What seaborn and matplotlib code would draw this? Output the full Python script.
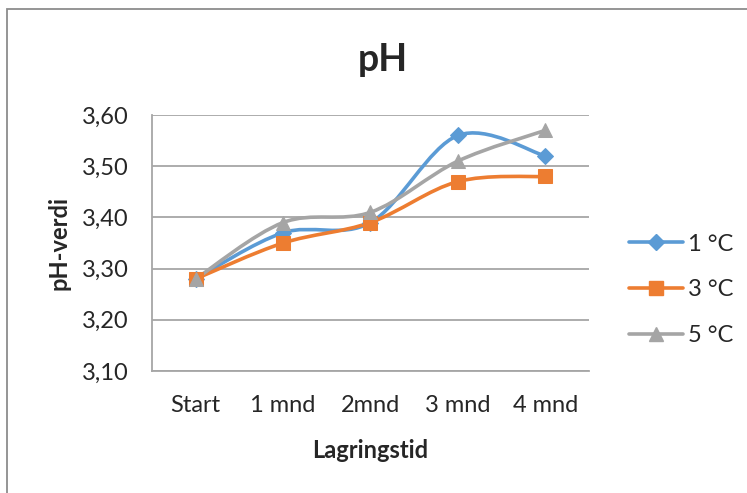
import numpy as np
import pandas as pd
import seaborn as sns
import matplotlib
matplotlib.use("Agg")
import matplotlib.pyplot as plt
from matplotlib.path import Path
from matplotlib.patches import PathPatch, Rectangle
from matplotlib.lines import Line2D

categories = ["Start", "1 mnd", "2mnd", "3 mnd", "4 mnd"]
ph_1c = [3.28, 3.37, 3.39, 3.56, 3.52]
ph_3c = [3.28, 3.35, 3.39, 3.47, 3.48]
ph_5c = [3.28, 3.39, 3.41, 3.51, 3.57]
series_names = ["1 °C", "3 °C", "5 °C"]
yticks = [3.10, 3.20, 3.30, 3.40, 3.50, 3.60]

colors = ["#5B9BD5", "#ED7D31", "#A5A5A5"]
markers = ["D", "s", "^"]
msizes = [8, 10, 10]

sns.set_theme(style="white")
plt.rcParams["font.family"] = ["Lato", "DejaVu Sans"]

fig = plt.figure(figsize=(7.47, 4.93), dpi=100)
ax = fig.add_axes([152/747, 1-371/493, (589-152)/747, (371-115)/493])

df = pd.DataFrame({
    "x": list(range(len(categories))) * 3,
    "pH": ph_1c + ph_3c + ph_5c,
    "serie": sum([[n] * len(categories) for n in series_names], []),
})

def smooth_path(xs, ys):
    pts = np.column_stack([xs, ys]).astype(float)
    n = len(pts)
    verts = [pts[0]]
    codes = [Path.MOVETO]
    for i in range(n - 1):
        p0 = pts[max(i - 1, 0)]
        p1 = pts[i]
        p2 = pts[i + 1]
        p3 = pts[min(i + 2, n - 1)]
        c1 = p1 + (p2 - p0) / 6.0
        c2 = p2 - (p3 - p1) / 6.0
        verts += [c1, c2, p2]
        codes += [Path.CURVE4] * 3
    return Path(verts, codes)

handles = []
for name, vals, c, m, ms in zip(series_names, [ph_1c, ph_3c, ph_5c], colors, markers, msizes):
    sub = df[df["serie"] == name]
    path = smooth_path(sub["x"].values, sub["pH"].values)
    ax.add_patch(PathPatch(path, facecolor="none", edgecolor=c, lw=2.6,
                           zorder=3, capstyle="round", joinstyle="round"))
    sns.lineplot(data=sub, x="x", y="pH", ax=ax, color=c, marker=m,
                 markersize=ms, markeredgecolor=c, linestyle="", zorder=4,
                 legend=False)
    handles.append(Line2D([0], [0], color=c, lw=2.6, marker=m,
                          markersize=ms, markeredgecolor=c))

ax.set_xlim(-0.5, len(categories) - 0.5)
ax.set_ylim(3.10, 3.60)
ax.set_xticks(range(len(categories)))
ax.set_xticklabels(categories, fontsize=17)
ax.set_yticks(yticks)
ax.set_yticklabels([f"{v:.2f}".replace(".", ",") for v in yticks], fontsize=17)
ax.tick_params(axis="y", length=0, pad=17)
ax.tick_params(axis="x", length=0, pad=17)
ax.yaxis.grid(True, color="#A6A6A6", lw=1.3)
ax.xaxis.grid(False)
for s in ["top", "right"]:
    ax.spines[s].set_visible(False)
for s in ["left", "bottom"]:
    ax.spines[s].set_color("#A6A6A6")
    ax.spines[s].set_linewidth(1.3)
ax.set_xlabel("Lagringstid", fontsize=17, fontweight="bold", labelpad=17)
ax.set_ylabel("pH-verdi", fontsize=17, fontweight="bold", labelpad=8)

fig.text(383/747, 1-60/493, "pH", ha="center", va="center",
         fontsize=27, fontweight="bold")

leg = fig.legend(handles=handles, labels=series_names, loc="center left",
                 bbox_to_anchor=(629/747, 1-290/493), frameon=False,
                 fontsize=17, handlelength=2.3, labelspacing=1.05,
                 handletextpad=0.2, borderpad=0, borderaxespad=0)

fig.patches.append(Rectangle((7/747, -0.1), 1.2, 1 - 9/493 + 0.1,
                             transform=fig.transFigure, fill=False,
                             edgecolor="#8C8C8C", lw=1.3, zorder=0))

fig.savefig("out.png", dpi=100)
